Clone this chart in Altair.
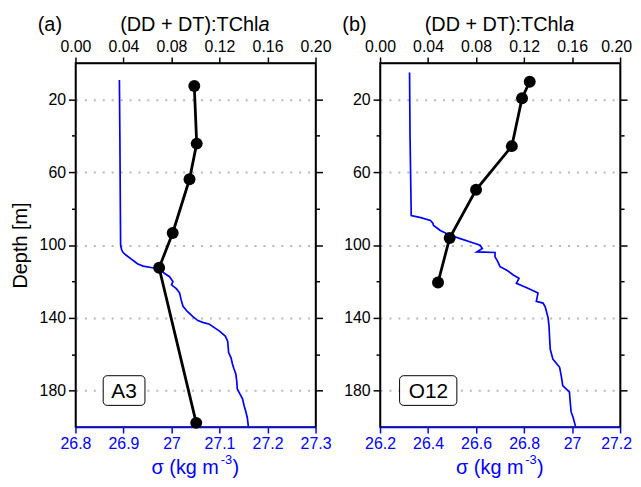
import altair as alt
import pandas as pd

# ---------------- data ----------------
ratio_depth_a = [12.7, 44.3, 63.9, 93.4, 112.5, 197.7]
ratio_a = [0.099, 0.101, 0.095, 0.081, 0.0697, 0.1006]
ratio_depth_b = [10.3, 19.4, 45.7, 69.7, 96.2, 120.6]
ratio_b = [0.1247, 0.1183, 0.1098, 0.080, 0.058, 0.0483]

sig_depth_a = [9.3, 40, 80, 100, 102.5, 104, 105.5, 107.5, 109.5, 110.5, 111.6, 112.5, 113.2,
               115.5, 117.4, 119, 120.1, 121.9, 124, 126.4, 130, 133.7, 136.5, 139.2, 141.5,
               142.5, 143.5, 145.5, 147.3, 150, 152.8, 156, 159.1, 162, 165.4, 168, 170.9,
               175, 179, 182, 184.5, 188, 191.7, 195, 199.5]
sig_a = [26.8915, 26.8925, 26.8935, 26.894, 26.896, 26.899, 26.905, 26.915, 26.925, 26.93,
         26.941, 26.96, 26.976, 26.985, 26.996, 27.0, 27.003, 27.0, 27.01, 27.017, 27.02,
         27.024, 27.033, 27.044, 27.055, 27.065, 27.079, 27.09, 27.1, 27.112, 27.117, 27.118,
         27.119, 27.124, 27.127, 27.13, 27.134, 27.136, 27.137, 27.143, 27.148, 27.151,
         27.155, 27.158, 27.16]

sig_depth_b = [5.3, 40, 83.8, 85, 86.5, 88, 89.3, 92, 94.5, 96.5, 98.5, 100.1, 101.9, 103.8,
               104.1, 106.5, 109, 111.9, 114, 116.5, 118.3, 121, 123.7, 126.4, 131, 131.9, 134,
               136.4, 140, 144.6, 150, 157.3, 162.7, 167.2, 172, 177.2, 180.8, 186, 191.7, 195,
               199.5]
sig_b = [26.323, 26.325, 26.33, 26.37, 26.41, 26.42, 26.423, 26.451, 26.49, 26.534, 26.58,
         26.617, 26.626, 26.603, 26.679, 26.679, 26.69, 26.7, 26.73, 26.755, 26.779, 26.768,
         26.816, 26.858, 26.851, 26.879, 26.888, 26.893, 26.9, 26.904, 26.906, 26.909, 26.92,
         26.948, 26.955, 26.961, 26.989, 26.992, 26.996, 27.005, 27.014]

ratio_ticks = [0.0, 0.04, 0.08, 0.12, 0.16, 0.20]
sigma_ticks_a = [26.8, 26.9, 27.0, 27.1, 27.2, 27.3]
sigma_ticks_b = [26.2, 26.4, 26.6, 26.8, 27.0, 27.2]
sigma_domain_a = [26.8, 27.3]
sigma_domain_b = [26.2, 27.2]
depth_ticks = [20, 40, 60, 80, 100, 120, 140, 160, 180]

# station labels: box extents in (ratio, depth) units
stations = ["A3", "O12"]
box_a = {"x1": [0.0231], "x2": [0.0579], "y1": [171.8], "y2": [188.1], "xm": [0.0405], "ym": [180.0]}
box_b = {"x1": [0.0163], "x2": [0.0640], "y1": [171.8], "y2": [188.1], "xm": [0.0403], "ym": [180.0]}

panel_tags = ["(a)", "(b)"]
top_title = ["(DD + DT):TChl", "a"]
bottom_title = ["σ (kg m", "-3", ")"]

BLUE = "#0000ff"
FONT = "Liberation Sans"
W, H = 242, 367

major = "datum.value % 40 == 20"


def panel(tag, r_depth, r_val, s_depth, s_val, s_dom, s_ticks, box, station, ytitle, end_shift):
    sig_df = pd.DataFrame({"depth": s_depth, "sigma": s_val, "i": list(range(len(s_depth)))})
    rat_df = pd.DataFrame({"depth": r_depth, "ratio": r_val})
    box_df = pd.DataFrame(box)
    box_df["label"] = [station]

    yscale = alt.Scale(domain=[0, 200], reverse=True, nice=False, zero=False)
    rscale = alt.Scale(domain=[0, 0.2], nice=False, zero=False)
    sscale = alt.Scale(domain=s_dom, nice=False, zero=False)

    left_axis = alt.Axis(
        orient="left", values=depth_ticks, labelExpr=f"{major} ? datum.label : ''",
        format="d", tickSize={"condition": {"test": major, "value": 7}, "value": 4},
        grid=True, gridOpacity={"condition": {"test": major, "value": 1}, "value": 0},
        gridDash=[2, 7], gridColor="#b8b8b8", gridWidth=2,
        title=ytitle, titlePadding=9, labelPadding=3,
    )
    right_axis = alt.Axis(
        orient="right", values=depth_ticks, labels=False, grid=False, title=None,
        tickSize={"condition": {"test": major, "value": 7}, "value": 4},
    )
    top_off = {"condition": {"test": f"datum.value >= {ratio_ticks[-1]} - 1e-9", "value": end_shift},
               "value": 0}
    bot_off = {"condition": {"test": f"datum.value >= {s_ticks[-1]} - 1e-9", "value": end_shift},
               "value": 0}
    top_axis = alt.Axis(orient="top", values=ratio_ticks, format=".2f", title=None, grid=False,
                        labelFlush=False, labelOverlap=False, tickSize=6, labelPadding=3,
                        labelOffset=top_off)
    bottom_axis = alt.Axis(orient="bottom", values=s_ticks, format="~g", title=None, grid=False,
                           labelFlush=False, labelOverlap=False, tickSize=6, labelPadding=3,
                           labelOffset=bot_off,
                           domainColor=BLUE, tickColor=BLUE, labelColor=BLUE)

    blue = alt.Chart(sig_df).mark_line(color=BLUE, strokeWidth=1.7).encode(
        x=alt.X("sigma:Q", scale=sscale, axis=bottom_axis),
        y=alt.Y("depth:Q", scale=yscale, axis=left_axis),
        order=alt.Order("i:Q"),
    )
    black_line = alt.Chart(rat_df).mark_line(color="black", strokeWidth=2.8).encode(
        x=alt.X("ratio:Q", scale=rscale, axis=top_axis),
        y=alt.Y("depth:Q", scale=yscale, axis=right_axis),
        order=alt.Order("depth:Q"),
    )
    black_pts = alt.Chart(rat_df).mark_point(filled=True, color="black", size=145, opacity=1).encode(
        x=alt.X("ratio:Q", scale=rscale, axis=None),
        y=alt.Y("depth:Q", scale=yscale, axis=None),
    )
    box_rect = alt.Chart(box_df).mark_rect(fill="white", stroke="black", strokeWidth=1,
                                           cornerRadius=4).encode(
        x=alt.X("x1:Q", scale=rscale, axis=None), x2="x2:Q",
        y=alt.Y("y1:Q", scale=yscale, axis=None), y2="y2:Q",
    )
    box_text = alt.Chart(box_df).mark_text(fontSize=21, font=FONT, color="black",
                                           baseline="middle", align="center", dy=1).encode(
        x=alt.X("xm:Q", scale=rscale, axis=None),
        y=alt.Y("ym:Q", scale=yscale, axis=None),
        text="label:N",
    )

    def txt(s, x, y, size=20, color="black", align="left", style="normal"):
        return alt.Chart(pd.DataFrame({"t": [s]})).mark_text(
            fontSize=size, font=FONT, color=color, align=align, baseline="alphabetic",
            fontStyle=style,
        ).encode(x=alt.value(x), y=alt.value(y), text="t:N")

    ty = -32.5
    by = 414.5
    texts = [
        txt(tag, -38.0, ty),
        txt(top_title[0], 184.4, ty, align="right"),
        txt(top_title[1], 184.6, ty, style="italic"),
        txt(bottom_title[0], 76.7, by, color=BLUE),
        txt(bottom_title[1], 158.0, by - 10.7, size=13, color=BLUE, align="right"),
        txt(bottom_title[2], 158.3, by, color=BLUE),
    ]

    return alt.layer(blue, black_line, black_pts, box_rect, box_text, *texts).resolve_scale(
        x="independent", y="independent"
    ).properties(width=W, height=H)


pa = panel(panel_tags[0], ratio_depth_a, ratio_a, sig_depth_a, sig_a, sigma_domain_a,
           sigma_ticks_a, box_a, stations[0], "Depth [m]", 0)
pb = panel(panel_tags[1], ratio_depth_b, ratio_b, sig_depth_b, sig_b, sigma_domain_b,
           sigma_ticks_b, box_b, stations[1], None, -4)

chart = alt.hconcat(pa, pb, spacing=9).properties(
    padding={"left": 1, "top": 3.5, "right": 0, "bottom": 0}
).configure_view(stroke="black", strokeWidth=1.5).configure_axis(
    labelFont=FONT, titleFont=FONT, labelFontSize=16, titleFontSize=20,
    titleFontWeight="normal", labelColor="black", titleColor="black",
    domainColor="black", tickColor="black", domainWidth=1.5, tickWidth=1.5,
)

chart.save("out.html", embed_options={"renderer": "svg", "actions": False})
